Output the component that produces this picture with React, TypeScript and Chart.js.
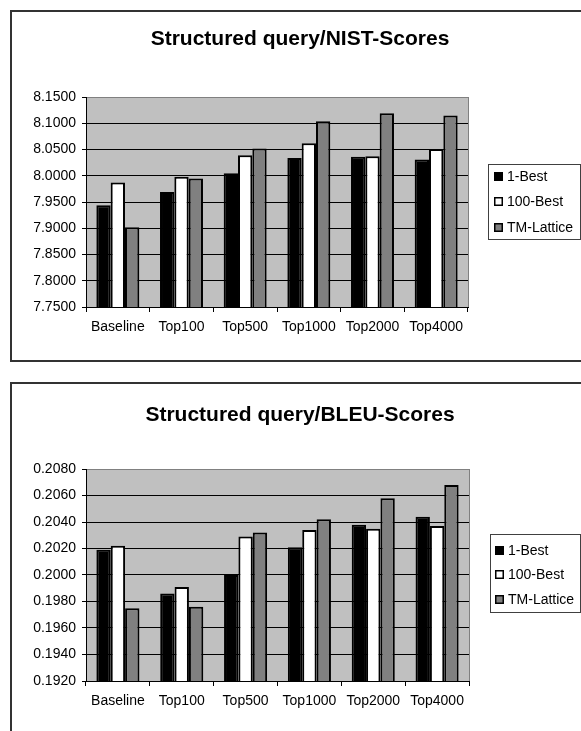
import React, { useEffect, useRef } from "react";
import { Chart, registerables } from "chart.js";

Chart.register(...registerables);

const categories = ["Baseline", "Top100", "Top500", "Top1000", "Top2000", "Top4000"];
const seriesNames = ["1-Best", "100-Best", "TM-Lattice"];
const seriesColors = ["#000000", "#ffffff", "#808080"];

const nistTitle = "Structured query/NIST-Scores";
const nistOneBest = [7.944, 7.969, 8.005, 8.034, 8.036, 8.031];
const nistHundredBest = [7.987, 7.998, 8.039, 8.062, 8.037, 8.051];
const nistTmLattice = [7.902, 7.995, 8.052, 8.104, 8.119, 8.115];
const nistAxisRange = [7.75, 8.15];
const nistAxisStep = 0.05;

const bleuTitle = "Structured query/BLEU-Scores";
const bleuOneBest = [0.2019, 0.1986, 0.2, 0.2021, 0.2038, 0.2044];
const bleuHundredBest = [0.2022, 0.1991, 0.2029, 0.2034, 0.2035, 0.2037];
const bleuTmLattice = [0.1975, 0.1976, 0.2032, 0.2042, 0.2058, 0.2068];
const bleuAxisRange = [0.192, 0.208];
const bleuAxisStep = 0.002;

const FONT = '"Liberation Sans", Arial, Helvetica, sans-serif';

type Layout = {
  width: number;
  height: number;
  plotLeft: number;
  plotTop: number;
  plotRight: number;
  plotBottom: number;
  titleX: number;
  titleBaseline: number;
  legendBox: [number, number, number, number];
  legendItemYs: number[];
  markerX: number;
  textX: number;
};

function makeConfig(
  title: string,
  values: number[][],
  range: number[],
  step: number,
  L: Layout
): any {
  const bgPlugin = {
    id: "plotBg",
    beforeDraw(chart: any) {
      const { ctx, chartArea } = chart;
      ctx.save();
      ctx.fillStyle = "#c0c0c0";
      ctx.fillRect(chartArea.left, chartArea.top, chartArea.right - chartArea.left, chartArea.bottom - chartArea.top);
      ctx.strokeStyle = "#808080";
      ctx.lineWidth = 1;
      ctx.strokeRect(
        Math.round(chartArea.left) + 0.5,
        Math.round(chartArea.top) + 0.5,
        Math.round(chartArea.right - chartArea.left),
        Math.round(chartArea.bottom - chartArea.top)
      );
      ctx.restore();
    },
  };
  const decoPlugin = {
    id: "deco",
    afterDraw(chart: any) {
      const { ctx } = chart;
      ctx.save();
      ctx.fillStyle = "#000";
      ctx.font = "bold 21px " + FONT;
      ctx.textAlign = "center";
      ctx.textBaseline = "alphabetic";
      ctx.fillText(title, L.titleX, L.titleBaseline);

      const [bx, by, bw, bh] = L.legendBox;
      ctx.fillStyle = "#ffffff";
      ctx.fillRect(bx, by, bw, bh);
      ctx.strokeStyle = "#404040";
      ctx.lineWidth = 1;
      ctx.strokeRect(bx + 0.5, by + 0.5, bw - 1, bh - 1);
      chart.data.datasets.forEach((ds: any, i: number) => {
        const y = L.legendItemYs[i];
        ctx.fillStyle = ds.backgroundColor;
        ctx.fillRect(L.markerX, y - 5, 9, 9);
        ctx.strokeStyle = "#000";
        ctx.lineWidth = 1.5;
        ctx.strokeRect(L.markerX + 0.75, y - 5 + 0.75, 7.5, 7.5);
        ctx.fillStyle = "#000";
        ctx.font = "14px " + FONT;
        ctx.textAlign = "left";
        ctx.textBaseline = "middle";
        ctx.fillText(ds.label, L.textX, y);
      });
      ctx.restore();
    },
  };

  return {
    type: "bar",
    data: {
      labels: categories,
      datasets: seriesNames.map((name, i) => ({
        label: name,
        data: values[i],
        backgroundColor: seriesColors[i],
        borderColor: "#000000",
        borderWidth: 2,
        barPercentage: 1,
        categoryPercentage: 0.675,
      })),
    },
    options: {
      responsive: false,
      animation: false,
      devicePixelRatio: 1,
      layout: {
        padding: {
          left: 0,
          top: L.plotTop,
          right: L.width - L.plotRight,
          bottom: 0,
        },
      },
      plugins: {
        legend: { display: false },
        title: { display: false },
        tooltip: { enabled: false },
      },
      scales: {
        x: {
          z: 1,
          grid: {
            display: true,
            drawOnChartArea: false,
            drawTicks: true,
            tickLength: 5,
            color: "#000",
            offset: true,
          },
          border: { display: true, color: "#000", width: 1 },
          ticks: {
            color: "#000",
            font: { family: FONT, size: 14 },
            padding: 7,
            maxRotation: 0,
          },
          afterFit(scale: any) {
            scale.height = L.height - L.plotBottom;
          },
        },
        y: {
          min: range[0],
          max: range[1],
          grid: {
            color: (c: any) => (c.tick && Math.abs(c.tick.value - range[1]) < step / 10 ? "#808080" : "#000"),
            tickColor: "#000",
            lineWidth: 1,
            drawTicks: true,
            tickLength: 4,
          },
          border: { display: true, color: "#000", width: 1 },
          ticks: {
            stepSize: step,
            color: "#000",
            font: { family: FONT, size: 14 },
            padding: 6,
            callback: (v: any) => Number(v).toFixed(4),
          },
          afterFit(scale: any) {
            scale.width = L.plotLeft;
          },
        },
      },
    },
    plugins: [bgPlugin, decoPlugin],
  };
}

const topLayout: Layout = {
  width: 581,
  height: 362,
  plotLeft: 86,
  plotTop: 97,
  plotRight: 468,
  plotBottom: 307,
  titleX: 300,
  titleBaseline: 45,
  legendBox: [488, 164, 93, 76],
  legendItemYs: [177, 202, 228],
  markerX: 494,
  textX: 507,
};

const bottomLayout: Layout = {
  width: 581,
  height: 369,
  plotLeft: 86,
  plotTop: 107,
  plotRight: 469,
  plotBottom: 319,
  titleX: 300,
  titleBaseline: 59,
  legendBox: [490, 172, 91, 79],
  legendItemYs: [189, 213, 238],
  markerX: 495,
  textX: 508,
};

function BarChart(props: {
  title: string;
  values: number[][];
  range: number[];
  step: number;
  layout: Layout;
  top: number;
}) {
  const ref = useRef<HTMLCanvasElement | null>(null);
  useEffect(() => {
    if (!ref.current) return;
    const chart = new Chart(ref.current, makeConfig(props.title, props.values, props.range, props.step, props.layout));
    return () => chart.destroy();
  }, []);
  return (
    <canvas
      ref={ref}
      width={props.layout.width}
      height={props.layout.height}
      style={{ position: "absolute", left: 0, top: props.top, width: props.layout.width, height: props.layout.height }}
    />
  );
}

export default function App() {
  return (
    <div>
      <div
        style={{
          position: "absolute",
          left: 10,
          top: 10,
          width: 571,
          height: 352,
          boxSizing: "border-box",
          borderLeft: "2px solid #333",
          borderTop: "2px solid #333",
          borderBottom: "2px solid #333",
        }}
      />
      <div
        style={{
          position: "absolute",
          left: 10,
          top: 382,
          width: 571,
          height: 349,
          boxSizing: "border-box",
          borderLeft: "2px solid #333",
          borderTop: "2px solid #333",
        }}
      />
      <BarChart
        title={nistTitle}
        values={[nistOneBest, nistHundredBest, nistTmLattice]}
        range={nistAxisRange}
        step={nistAxisStep}
        layout={topLayout}
        top={0}
      />
      <BarChart
        title={bleuTitle}
        values={[bleuOneBest, bleuHundredBest, bleuTmLattice]}
        range={bleuAxisRange}
        step={bleuAxisStep}
        layout={bottomLayout}
        top={362}
      />
    </div>
  );
}
